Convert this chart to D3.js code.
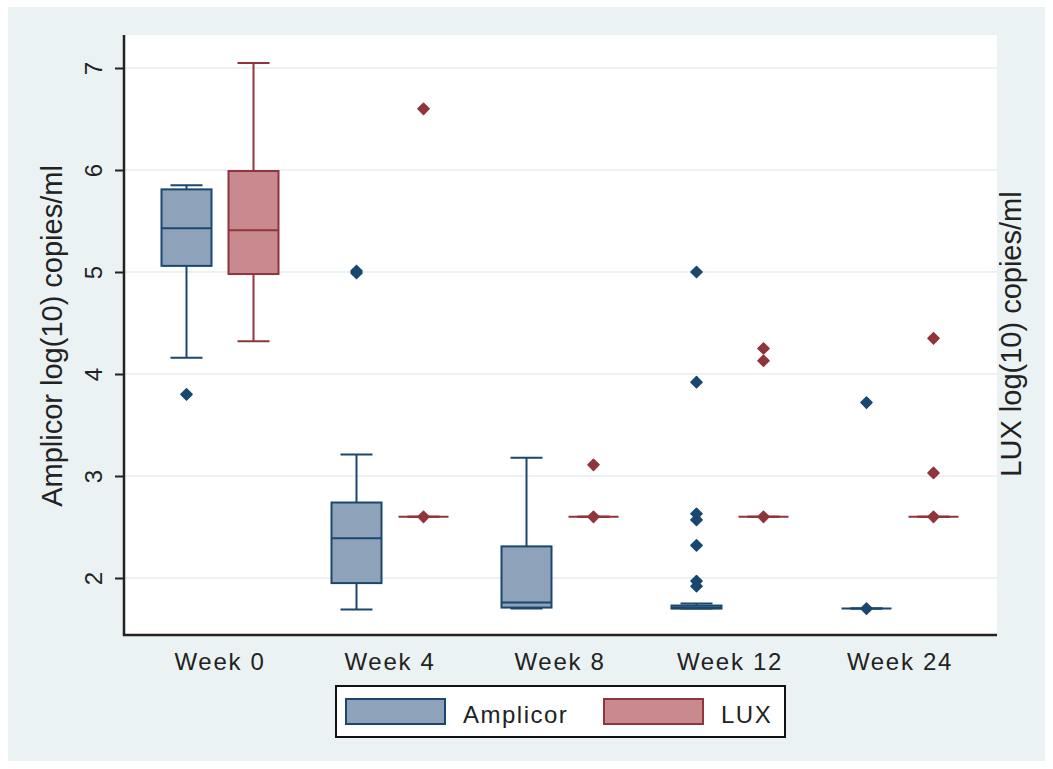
<!DOCTYPE html>
<html>
<head>
<meta charset="utf-8">
<script src="https://cdn.jsdelivr.net/npm/d3@7"></script>
<style>
  html, body { margin: 0; padding: 0; background: #ffffff; }
  svg { display: block; font-family: "Liberation Sans", Arial, sans-serif; }
</style>
</head>
<body>
<svg id="chart" width="1053" height="769"></svg>
<script>
// Viral load (log10 copies/ml) by visit, two assays
const weeks = ["Week 0", "Week 4", "Week 8", "Week 12", "Week 24"];
const series = ["Amplicor", "LUX"];
const yTicks = [2, 3, 4, 5, 6, 7];

// Amplicor box summaries per week
const amplicorLower  = [4.16, 1.69, 1.70, 1.70, 1.70];
const amplicorQ1     = [5.06, 1.95, 1.71, 1.70, 1.70];
const amplicorMedian = [5.43, 2.39, 1.76, 1.71, 1.70];
const amplicorQ3     = [5.81, 2.74, 2.31, 1.73, 1.70];
const amplicorUpper  = [5.85, 3.21, 3.18, 1.75, 1.70];
const amplicorOutliers = [
  [3.80],
  [4.99, 5.01],
  [],
  [5.00, 3.92, 2.63, 2.57, 2.32, 1.97, 1.92],
  [3.72, 1.70]
];

// LUX box summaries per week
const luxLower  = [4.32, 2.60, 2.60, 2.60, 2.60];
const luxQ1     = [4.98, 2.60, 2.60, 2.60, 2.60];
const luxMedian = [5.41, 2.60, 2.60, 2.60, 2.60];
const luxQ3     = [5.99, 2.60, 2.60, 2.60, 2.60];
const luxUpper  = [7.05, 2.60, 2.60, 2.60, 2.60];
const luxOutliers = [
  [],
  [6.60, 2.60],
  [3.11, 2.60],
  [4.25, 4.13, 2.60],
  [4.35, 3.03, 2.60]
];

const colors = {
  Amplicor: { fill: "#8ea3ba", stroke: "#1a476f" },
  LUX:      { fill: "#c8898f", stroke: "#90353b" }
};

function boxes(name, lo, q1, med, q3, hi, out) {
  return weeks.map((w, i) => ({
    week: w, series: name,
    lo: lo[i], q1: q1[i], med: med[i], q3: q3[i], hi: hi[i],
    outliers: out[i]
  }));
}
const boxData = boxes("Amplicor", amplicorLower, amplicorQ1, amplicorMedian, amplicorQ3, amplicorUpper, amplicorOutliers)
  .concat(boxes("LUX", luxLower, luxQ1, luxMedian, luxQ3, luxUpper, luxOutliers));

const svg = d3.select("#chart");
const font = "'Liberation Sans', Arial, sans-serif";

// Graph region and plot region
svg.append("rect").attr("x", 8).attr("y", 7).attr("width", 1037).attr("height", 754).attr("fill", "#eaf2f3");
const plot = { left: 124, right: 997, top: 35, bottom: 635 };
svg.append("rect")
  .attr("x", plot.left).attr("y", plot.top)
  .attr("width", plot.right - plot.left).attr("height", plot.bottom - plot.top)
  .attr("fill", "#ffffff");

// Scales
const y = d3.scaleLinear().domain([2, 7]).range([578, 68]);
const x = d3.scaleBand().domain(weeks).range([135, 985]);
const sub = d3.scalePoint().domain(series).range([51.5, 118.5]);
const boxW = 50, capW = 32;

// Gridlines
svg.append("g").selectAll("line").data(yTicks).join("line")
  .attr("x1", plot.left).attr("x2", plot.right)
  .attr("y1", d => y(d)).attr("y2", d => y(d))
  .attr("stroke", "#e6edef").attr("stroke-width", 1.6);

// Y axis ticks with vertical labels
const yAxis = svg.append("g").attr("transform", `translate(${plot.left},0)`)
  .call(d3.axisLeft(y).tickValues(yTicks).tickSize(9).tickFormat(d3.format("d")));
yAxis.select(".domain").remove();
yAxis.selectAll(".tick line").attr("stroke", "#222").attr("stroke-width", 2);
yAxis.selectAll(".tick text")
  .attr("x", null).attr("dy", null)
  .attr("text-anchor", "middle")
  .attr("transform", "translate(-22,0) rotate(-90)")
  .attr("fill", "#222").style("font-size", "24px").style("font-family", font);

// X axis labels
const xAxis = svg.append("g").attr("transform", `translate(0,${plot.bottom})`)
  .call(d3.axisBottom(x).tickSize(0));
xAxis.select(".domain").remove();
xAxis.selectAll(".tick text")
  .attr("y", 35).attr("dy", null)
  .attr("fill", "#222").style("font-size", "24px").style("letter-spacing", "1.7px")
  .style("font-family", font);

// Axis lines
svg.append("line").attr("x1", plot.left).attr("x2", plot.left).attr("y1", plot.top).attr("y2", plot.bottom + 1)
  .attr("stroke", "#222").attr("stroke-width", 2.5);
svg.append("line").attr("x1", plot.left - 1).attr("x2", plot.right).attr("y1", plot.bottom).attr("y2", plot.bottom)
  .attr("stroke", "#222").attr("stroke-width", 2.5);

// Box plots
const g = svg.append("g").selectAll("g").data(boxData).join("g")
  .attr("transform", d => `translate(${x(d.week) + sub(d.series)},0)`);

g.append("line").attr("x1", 0).attr("x2", 0).attr("y1", d => y(d.q3)).attr("y2", d => y(d.hi))
  .attr("stroke", d => colors[d.series].stroke).attr("stroke-width", 2);
g.append("line").attr("x1", 0).attr("x2", 0).attr("y1", d => y(d.q1)).attr("y2", d => y(d.lo))
  .attr("stroke", d => colors[d.series].stroke).attr("stroke-width", 2);
g.append("line").attr("x1", -capW / 2).attr("x2", capW / 2).attr("y1", d => y(d.hi)).attr("y2", d => y(d.hi))
  .attr("stroke", d => colors[d.series].stroke).attr("stroke-width", 2);
g.append("line").attr("x1", -capW / 2).attr("x2", capW / 2).attr("y1", d => y(d.lo)).attr("y2", d => y(d.lo))
  .attr("stroke", d => colors[d.series].stroke).attr("stroke-width", 2);
g.append("rect")
  .attr("x", -boxW / 2).attr("width", boxW)
  .attr("y", d => y(d.q3)).attr("height", d => y(d.q1) - y(d.q3))
  .attr("fill", d => colors[d.series].fill)
  .attr("stroke", d => colors[d.series].stroke).attr("stroke-width", 2);
g.append("line").attr("x1", -boxW / 2).attr("x2", boxW / 2).attr("y1", d => y(d.med)).attr("y2", d => y(d.med))
  .attr("stroke", d => colors[d.series].stroke).attr("stroke-width", 2);

// Outside values
const marker = d3.symbol().type(d3.symbolSquare).size(62);
g.selectAll("path.out").data(d => d.outliers.map(v => ({ v, s: d.series }))).join("path")
  .attr("class", "out")
  .attr("d", marker)
  .attr("transform", d => `translate(0,${y(d.v)}) rotate(45)`)
  .attr("fill", d => colors[d.s].stroke)
  .attr("stroke", d => colors[d.s].stroke).attr("stroke-width", 1.5).attr("stroke-linejoin", "round");

// Axis titles
svg.append("text").attr("transform", "translate(62,336) rotate(-90)")
  .attr("text-anchor", "middle").attr("fill", "#222")
  .style("font-size", "29px").style("font-family", font)
  .text("Amplicor log(10) copies/ml");
svg.append("text").attr("transform", "translate(1021,334) rotate(-90)")
  .attr("text-anchor", "middle").attr("fill", "#222")
  .style("font-size", "29px").style("font-family", font)
  .text("LUX log(10) copies/ml");

// Legend
const legend = svg.append("g");
legend.append("rect").attr("x", 336).attr("y", 686).attr("width", 449).attr("height", 51)
  .attr("fill", "#ffffff").attr("stroke", "#111").attr("stroke-width", 2);
const keyX = d3.scalePoint().domain(series).range([346, 604]);
const items = legend.selectAll("g").data(series).join("g")
  .attr("transform", d => `translate(${keyX(d)},699)`);
items.append("rect").attr("width", 99).attr("height", 25)
  .attr("fill", d => colors[d].fill).attr("stroke", d => colors[d].stroke).attr("stroke-width", 2);
items.append("text").attr("x", 117).attr("y", 24)
  .attr("fill", "#222").style("font-size", "24px").style("letter-spacing", "1.5px")
  .style("font-family", font)
  .text(d => d);
</script>
</body>
</html>
